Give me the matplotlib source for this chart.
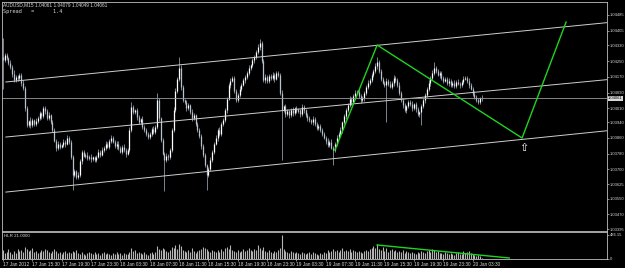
import numpy as np
import matplotlib.pyplot as plt

plt.rcParams['font.family'] = ['Liberation Sans Narrow', 'Liberation Sans', 'DejaVu Sans']

# AUDUSD M15, prices kept as points above 1.03000
BASE = 1.03
PT = 1e-5
first_open = 1270

close_pts = [
    1256, 1281, 1265, 1241, 1220, 1185, 1154, 1170, 1162, 1180, 1140, 1113, 1010, 925, 945, 925, 950, 930, 945, 961,
    985, 970, 1012, 995, 960, 975, 940, 900, 845, 808, 830, 815, 823, 840, 830, 859, 840, 760, 671, 690,
    660, 671, 740, 788, 770, 775, 757, 765, 750, 760, 747, 765, 790, 775, 800, 808, 830, 815, 845, 859,
    840, 820, 830, 808, 790, 815, 800, 780, 798, 900, 1017, 990, 1000, 966, 940, 955, 915, 900, 880, 864,
    880, 905, 890, 915, 1052, 960, 850, 780, 747, 770, 760, 798, 900, 1001, 1100, 1160, 1215, 1120, 1052, 1040,
    1010, 1025, 991, 960, 975, 930, 900, 870, 820, 772, 720, 671, 700, 747, 790, 830, 860, 900, 880, 930,
    951, 1000, 1060, 1129, 1150, 1164, 1100, 1052, 1080, 1110, 1130, 1154, 1170, 1190, 1215, 1230, 1255, 1270, 1297, 1320,
    1342, 1250, 1154, 1170, 1150, 1175, 1164, 1180, 1160, 1190, 1180, 1090, 1001, 1020, 980, 995, 976, 1000, 985, 1010,
    995, 1001, 980, 1015, 1001, 975, 960, 950, 940, 955, 930, 910, 920, 900, 880, 860, 845, 823, 840, 810,
    798, 830, 860, 880, 900, 940, 970, 1000, 1027, 1060, 1040, 1075, 1090, 1093, 1075, 1050, 1063, 1090, 1120, 1140,
    1154, 1180, 1200, 1225, 1246, 1200, 1160, 1140, 1129, 1150, 1135, 1120, 1140, 1165, 1154, 1130, 1090, 1050, 1027, 1000,
    1020, 1040, 1030, 1012, 1030, 1005, 980, 991, 1020, 1050, 1078, 1110, 1140, 1164, 1190, 1215, 1200, 1180, 1190, 1164,
    1150, 1160, 1140, 1150, 1129, 1140, 1125, 1145, 1135, 1129, 1145, 1160, 1164, 1150, 1129, 1110, 1085, 1070, 1052, 1040,
    1061, 1061,
]
up_wick = [
    100, 10, 12, 8, 15, 10, 20, 8, 12, 10, 8, 15, 10, 12, 8, 20, 10, 8, 15, 12,
    10, 8, 8, 12, 10, 15, 8, 10, 12, 8, 15, 10, 8, 12, 10, 15, 8, 10, 12, 10,
    8, 15, 10, 12, 8, 10, 15, 8, 12, 10, 8, 10, 12, 8, 15, 10, 12, 8, 10, 15,
    10, 8, 12, 15, 8, 10, 12, 8, 10, 15, 25, 10, 8, 12, 10, 8, 15, 10, 8, 12,
    10, 8, 15, 10, 36, 12, 8, 10, 8, 15, 10, 12, 10, 15, 12, 10, 56, 15, 10, 8,
    12, 10, 8, 15, 10, 8, 12, 10, 8, 10, 12, 8, 10, 15, 10, 8, 12, 10, 15, 10,
    8, 12, 10, 8, 15, 10, 12, 8, 10, 15, 10, 8, 12, 10, 15, 8, 10, 12, 10, 15,
    21, 10, 12, 15, 10, 8, 12, 15, 10, 8, 12, 10, 15, 8, 10, 12, 8, 10, 15, 8,
    10, 12, 8, 15, 10, 8, 12, 10, 8, 15, 10, 12, 8, 10, 12, 8, 10, 15, 8, 12,
    10, 8, 12, 10, 15, 8, 10, 12, 8, 15, 10, 8, 12, 10, 15, 8, 12, 10, 8, 12,
    10, 12, 8, 15, 25, 10, 12, 8, 10, 15, 8, 12, 10, 15, 8, 10, 12, 8, 10, 12,
    8, 10, 12, 15, 8, 10, 12, 8, 10, 15, 10, 8, 12, 10, 15, 31, 10, 12, 8, 10,
    12, 10, 8, 15, 10, 8, 12, 10, 15, 8, 10, 12, 8, 10, 12, 8, 10, 15, 8, 10,
    8, 18,
]
dn_wick = [
    150, 10, 8, 12, 10, 15, 8, 10, 12, 8, 15, 10, 12, 8, 10, 15, 8, 12, 10, 8,
    10, 12, 8, 15, 10, 8, 12, 10, 8, 15, 10, 12, 8, 10, 15, 8, 12, 10, 77, 10,
    12, 8, 10, 15, 8, 12, 10, 8, 15, 10, 12, 8, 10, 15, 8, 10, 12, 8, 10, 12,
    8, 10, 15, 12, 8, 10, 12, 15, 8, 10, 12, 8, 10, 15, 10, 12, 8, 10, 12, 8,
    10, 12, 8, 10, 12, 15, 10, 8, 160, 10, 12, 8, 10, 12, 8, 10, 12, 15, 10, 8,
    12, 10, 8, 15, 10, 12, 8, 10, 15, 12, 10, 77, 10, 8, 12, 10, 8, 15, 10, 12,
    10, 8, 12, 10, 15, 8, 12, 10, 8, 12, 10, 8, 15, 10, 12, 8, 10, 12, 8, 10,
    12, 10, 8, 15, 10, 12, 8, 10, 15, 8, 10, 12, 254, 10, 12, 8, 15, 10, 12, 8,
    10, 8, 12, 10, 15, 8, 12, 10, 8, 15, 10, 12, 8, 10, 12, 8, 15, 10, 12, 8,
    76, 10, 12, 8, 10, 15, 8, 12, 10, 8, 15, 10, 12, 8, 10, 12, 8, 15, 10, 12,
    10, 8, 12, 10, 15, 10, 12, 8, 10, 189, 12, 8, 10, 15, 8, 12, 10, 8, 15, 10,
    12, 8, 10, 15, 10, 12, 8, 15, 66, 10, 12, 8, 10, 15, 8, 12, 10, 8, 15, 10,
    12, 8, 10, 15, 10, 8, 12, 10, 8, 15, 10, 12, 8, 10, 15, 8, 10, 12, 8, 10,
    8, 12,
]
volume = [
    180, 120, 150, 200, 140, 110, 160, 130, 210, 170, 190, 150, 240, 200, 160, 180, 220, 140, 170, 130,
    150, 190, 160, 210, 180, 140, 120, 170, 200, 160, 130, 150, 110, 140, 170, 120, 150, 130, 160, 140,
    180, 120, 100, 140, 110, 90, 130, 150, 120, 100, 140, 110, 130, 90, 120, 140, 100, 130, 110, 90,
    120, 100, 140, 110, 130, 90, 120, 100, 110, 140, 220, 160, 190, 130, 150, 120, 100, 140, 110, 90,
    130, 150, 110, 140, 260, 210, 180, 230, 200, 160, 150, 190, 250, 230, 280, 210, 300, 260, 190, 170,
    150, 180, 140, 220, 170, 130, 160, 190, 210, 250, 230, 200, 170, 150, 190, 160, 140, 180, 150, 200,
    170, 220, 250, 210, 280, 190, 160, 140, 180, 150, 170, 200, 160, 190, 220, 180, 170, 210, 190, 280,
    220, 190, 250, 160, 140, 180, 150, 130, 170, 140, 190, 230, 486, 200, 170, 150, 130, 160, 140, 120,
    150, 130, 110, 140, 120, 100, 130, 150, 110, 140, 120, 100, 90, 130, 110, 150, 120, 180, 140, 160,
    200, 170, 190, 150, 180, 220, 160, 190, 170, 210, 150, 180, 160, 140, 170, 150, 130, 160, 190, 170,
    200, 230, 260, 220, 300, 210, 190, 250, 170, 230, 150, 180, 210, 160, 190, 140, 170, 150, 180, 130,
    160, 140, 120, 150, 130, 110, 140, 120, 160, 150, 130, 170, 190, 150, 210, 180, 140, 160, 120, 130,
    110, 150, 120, 100, 130, 110, 90, 120, 140, 100, 110, 160, 130, 150, 170, 120, 100, 90, 70, 80,
    60, 30,
]

date_ticks = [0, 16, 32, 48, 64, 80, 96, 112, 128, 144, 160, 176, 192, 208, 224, 240, 256]
date_labels = ["17 Jan 2012", "17 Jan 15:30", "17 Jan 19:30", "17 Jan 23:30",
               "18 Jan 03:30", "18 Jan 07:30", "18 Jan 11:30", "18 Jan 15:30",
               "18 Jan 19:30", "18 Jan 23:30", "19 Jan 03:30", "19 Jan 07:30",
               "19 Jan 11:30", "19 Jan 15:30", "19 Jan 19:30", "19 Jan 23:30",
               "20 Jan 03:30"]
price_ticks = [1.03395, 1.03470, 1.03550, 1.03625, 1.03700, 1.03780, 1.03860, 1.03940,
               1.04010, 1.04090, 1.04170, 1.04250, 1.04330, 1.04405, 1.04485]
bid = 1.04061
vol_max = 486.15

# trend channel and zigzag anchors: (bar, points)
channel_top = [(1.6, 1144), (329.3, 1446)]
channel_mid = [(1.6, 864), (329.3, 1156)]
channel_low = [(1.6, 584), (329.3, 896)]
zigzag = [(181, 798), (204, 1332), (283, 859), (307, 1449)]
zigzag_vol = [(204, 280), (276, 20)]
arrow_at = (284, 808)

n = len(close_pts)
idx = np.arange(n)
close = BASE + np.array(close_pts) * PT
opn = np.concatenate([[BASE + first_open * PT], close[:-1]])
high = np.maximum(opn, close) + np.array(up_wick) * PT
low = np.minimum(opn, close) - np.array(dn_wick) * PT

GRID = '#c0c0c0'
TXT = '#d8d8d8'
GREEN = '#1fd41f'

fig = plt.figure(figsize=(6.25, 2.68), dpi=100, facecolor='black')
ax = fig.add_axes([2 / 625, 1 - 231 / 268, 605 / 625, 229 / 268], facecolor='black')
axv = fig.add_axes([2 / 625, 1 - 259 / 268, 605 / 625, 27 / 268], facecolor='black')

# candles
ax.vlines(idx, low, high, color='#9ba7b4', lw=0.55)
body_lo = np.minimum(opn, close)
body_hi = np.maximum(np.maximum(opn, close), body_lo + 2 * PT)
up = close >= opn
ax.vlines(idx[up], body_lo[up], body_hi[up], color='white', lw=0.9)
ax.vlines(idx[~up], body_lo[~up], body_hi[~up], color='#b9c2cc', lw=0.9)

for line in (channel_top, channel_mid, channel_low):
    xs = [p[0] for p in line]
    ys = [BASE + p[1] * PT for p in line]
    ax.plot(xs, ys, color='#cfcfcf', lw=0.7)

ax.axhline(bid, color='#9a9a9a', lw=0.6)
ax.plot([p[0] for p in zigzag], [BASE + p[1] * PT for p in zigzag], color=GREEN, lw=1.0)
ax.text(arrow_at[0], BASE + arrow_at[1] * PT, '\u21e7', color='white', fontsize=8,
        ha='center', va='center', family='DejaVu Sans')

ax.set_xlim(-0.5, 329.3)
ax.set_ylim(BASE + 386 * PT, BASE + 1551 * PT)
ax.yaxis.tick_right()
ax.set_yticks(price_ticks)
ax.set_yticklabels([f"{p:.5f}" for p in price_ticks])
ax.tick_params(axis='y', colors=GRID, labelcolor=TXT, labelsize=3.0, length=1.2, width=0.5, pad=0.8)
ax.set_xticks([])
ax.text(1.002, bid, f"{bid:.5f}", transform=ax.get_yaxis_transform(), color='black',
        fontsize=3.0, ha='left', va='center',
        bbox=dict(boxstyle='square,pad=0.15', fc='#d8d8d8', ec='none'))

# volume panel
axv.vlines(idx, 0, volume, color='#b4b4b4', lw=0.8)
axv.plot([p[0] for p in zigzag_vol], [p[1] for p in zigzag_vol], color=GREEN, lw=1.0)
axv.set_xlim(-0.5, 329.3)
axv.set_ylim(0, 540)
axv.yaxis.tick_right()
axv.set_yticks([0, vol_max])
axv.set_yticklabels(["0", f"{vol_max:.2f}"])
axv.tick_params(axis='y', colors=GRID, labelcolor=TXT, labelsize=3.0, length=1.2, width=0.5, pad=0.8)
axv.set_xticks(date_ticks)
axv.set_xticklabels(date_labels, ha='left')
axv.tick_params(axis='x', colors=GRID, labelcolor=TXT, labelsize=3.4, length=1.5, width=0.5, pad=0.8)
axv.text(0.004, 0.93, "HLR 21.0000", transform=axv.transAxes, color=TXT, fontsize=3.2, va='top')

for a in (ax, axv):
    for s in a.spines.values():
        s.set_color(GRID)
        s.set_linewidth(0.6)

fig.text(3 / 625, 1 - 5 / 268, "AUDUSD,M15 1.04061 1.04079 1.04049 1.04061", color=TXT,
         fontsize=3.4, va='center')
fig.text(3 / 625, 1 - 11 / 268, "Spread   =      1.4", color=TXT, fontsize=3.8,
         family='DejaVu Sans Mono', va='center')

fig.savefig('out.png', dpi=100, facecolor='black')
